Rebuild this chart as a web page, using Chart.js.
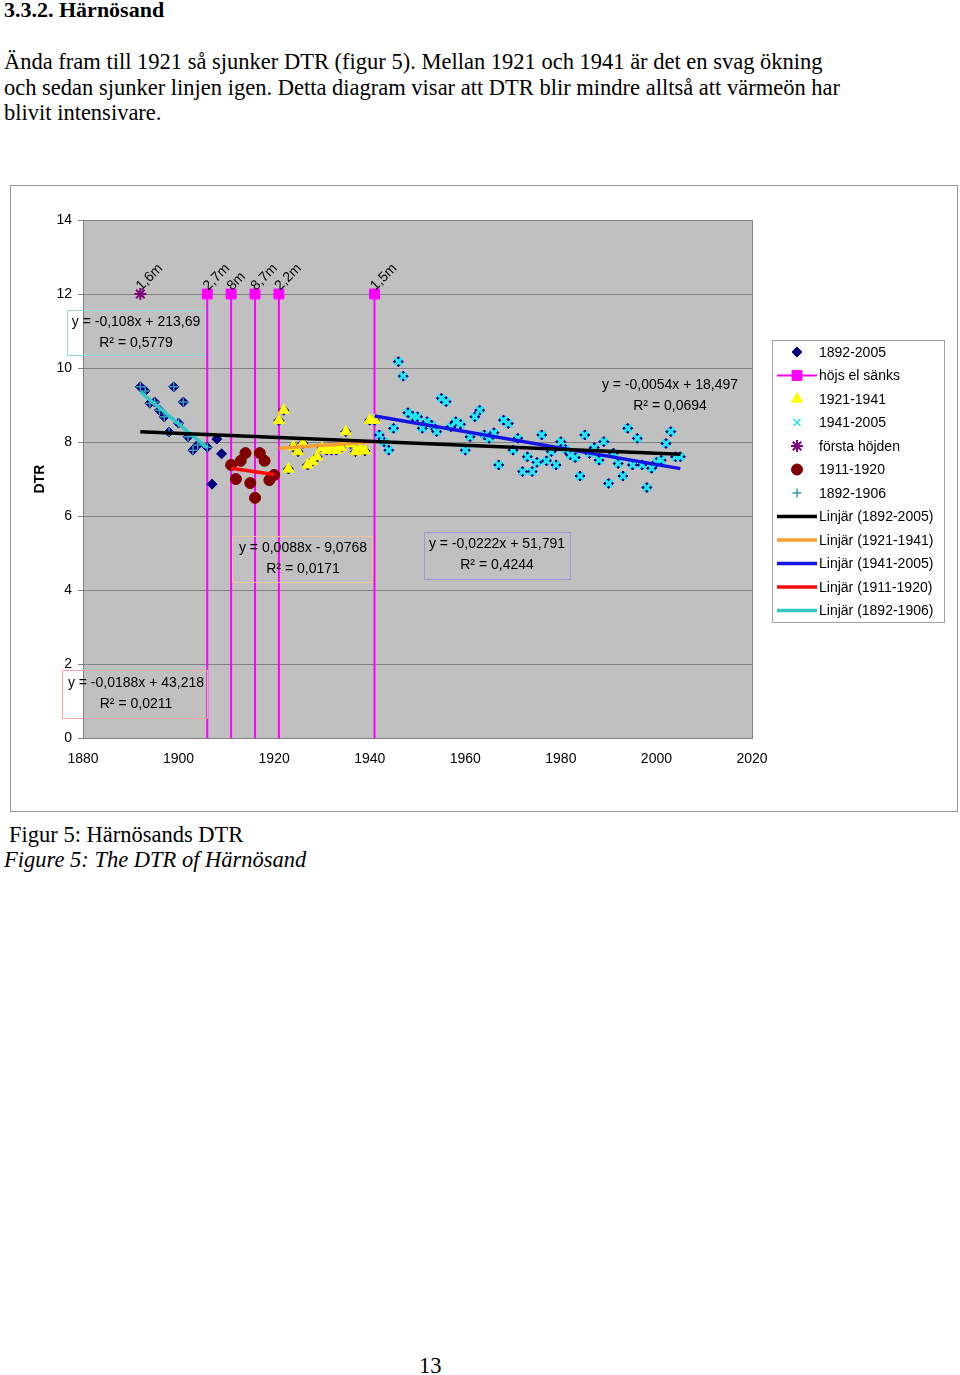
<!DOCTYPE html>
<html>
<head>
<meta charset="utf-8">
<script src="https://cdn.jsdelivr.net/npm/chart.js@4/dist/chart.umd.min.js"></script>
<style>
  body { margin: 0; background: #fff; width: 960px; height: 1375px; position: relative; overflow: hidden; }
  .t { position: absolute; left: 4px; font-family: "Liberation Serif", "Times New Roman", serif; font-size: 22.5px; color: #000; white-space: nowrap; }
  #frame { position: absolute; left: 10px; top: 185px; width: 946px; height: 625px; border: 1px solid #999; }
  #dtr { display: block; }
</style>
</head>
<body>
<div class="t" style="top:-3px; line-height:26px; font-weight:bold; font-size:22px;">3.3.2. Härnösand</div>
<div class="t" style="top:49px; line-height:25.5px;">Ända fram till 1921 så sjunker DTR (figur 5). Mellan 1921 och 1941 är det en svag ökning<br>och sedan sjunker linjen igen. Detta diagram visar att DTR blir mindre alltså att värmeön har<br>blivit intensivare.</div>
<div id="frame"><canvas id="dtr" width="946" height="625"></canvas></div>
<div class="t" style="top:822px; left:9px; line-height:25px;">Figur 5: Härnösands DTR</div>
<div class="t" style="top:847px; line-height:25px; font-style:italic;">Figure 5: The DTR of Härnösand</div>
<div class="t" style="top:1353px; left:419px; line-height:26px;">13</div>
<script>
// values (DTR per year)
var yearsEarly = [1892, 1893, 1894, 1895, 1896, 1897, 1898, 1899, 1900, 1901, 1902, 1903, 1904, 1906]
var dtrEarly = [9.49, 9.38, 9.05, 9.08, 8.86, 8.68, 8.27, 9.49, 8.51, 9.08, 8.14, 7.78, 7.92, 7.86]

var yearsGap = [1907, 1908, 1909]
var dtrGap = [6.86, 8.08, 7.68]

var yearsRed = [1911, 1912, 1913, 1914, 1915, 1916, 1917, 1918, 1919, 1920]
var dtrRed = [7.38, 7.00, 7.49, 7.70, 6.89, 6.49, 7.70, 7.49, 6.97, 7.11]

var yearsYellow = [1921, 1922, 1923, 1924, 1925, 1926, 1927, 1928, 1929, 1930, 1931,
                   1932, 1933, 1934, 1935, 1936, 1937, 1938, 1939, 1940, 1941]
var dtrYellow = [8.58, 8.86, 7.27, 7.87, 7.74, 7.96, 7.38, 7.47, 7.60, 7.84, 7.78,
                 7.78, 7.78, 7.85, 8.28, 7.95, 7.74, 7.84, 7.76, 8.59, 8.59]

var yearsCyan = [1941, 1942, 1943, 1944, 1945, 1946, 1947, 1948, 1949, 1950,
                 1951, 1952, 1953, 1954, 1955, 1956, 1957, 1958, 1959, 1960,
                 1961, 1962, 1963, 1964, 1965, 1966, 1967, 1968, 1969, 1970,
                 1971, 1972, 1973, 1974, 1975, 1976, 1977, 1978, 1979, 1980,
                 1981, 1982, 1983, 1984, 1985, 1986, 1987, 1988, 1989, 1990,
                 1991, 1992, 1993, 1994, 1995, 1996, 1997, 1998, 1999, 2000,
                 2001, 2002, 2003, 2004, 2005]
var dtrCyan = [8.59, 8.19, 8.00, 7.78, 8.37, 10.17, 9.78, 8.79, 8.70, 8.68,
               8.37, 8.55, 8.45, 8.28, 9.18, 9.09, 8.41, 8.55, 8.48, 7.78,
               8.14, 8.68, 8.86, 8.19, 8.10, 8.25, 7.38, 8.59, 8.50, 7.78,
               8.10, 7.20, 7.60, 7.20, 7.45, 8.19, 7.49, 7.74, 7.38, 8.01,
               7.80, 7.65, 7.58, 7.08, 8.19, 7.69, 7.85, 7.51, 8.01, 6.88,
               7.70, 7.42, 7.08, 8.37, 7.38, 8.10, 7.38, 6.77, 7.29, 7.45,
               7.51, 7.96, 8.28, 7.60, 7.60]

// station moves ("höjs el sänks") and the first height
var moveYears = [1906, 1911, 1916, 1921, 1941]
var moveLevel = [12, 12, 12, 12, 12]
var moveLabels = ["2,7m", "8m", "8,7m", "2,2m", "1,5m"]
var firstYears = [1892]
var firstLevel = [12]
var firstLabels = ["1,6m"]

// linear trends as printed on the chart
var trendNames = ["Linjär (1892-2005)", "Linjär (1921-1941)", "Linjär (1941-2005)", "Linjär (1911-1920)", "Linjär (1892-1906)"]
var trendSlopes = [-0.0054, 0.0088, -0.0222, -0.0188, -0.108]
var trendIntercepts = [18.497, -9.0768, 51.791, 43.218, 213.69]
var trendFrom = [1892, 1921, 1941, 1911, 1892]
var trendTo = [2005, 1941, 2005, 1920, 1906]
var trendEq = ["y = -0,0054x + 18,497", "y = 0,0088x - 9,0768", "y = -0,0222x + 51,791", "y = -0,0188x + 43,218", "y = -0,108x + 213,69"]
var trendR2 = ["R² = 0,0694", "R² = 0,0171", "R² = 0,4244", "R² = 0,0211", "R² = 0,5779"]
var trendColors = ["#000000", "#f7a030", "#1414e6", "#ff0a0a", "#33c8c8"]

var xTicks = [1880, 1900, 1920, 1940, 1960, 1980, 2000, 2020]

function pts(xs, ys) {
    return xs.map(function(x, i) { return {x: x, y: ys[i]} })
}

var yearsAll = yearsEarly.concat(yearsGap, yearsRed, yearsYellow, yearsCyan.slice(1))
var dtrAll = dtrEarly.concat(dtrGap, dtrRed, dtrYellow, dtrCyan.slice(1))

var datasets = []
datasets.push({label: "1892-2005", data: pts(yearsAll, dtrAll), pointStyle: "rectRot", pointRadius: 5,
    backgroundColor: "#000080", borderColor: "#000080", borderWidth: 1, order: 20})
datasets.push({label: "höjs el sänks", data: pts(moveYears, moveLevel), pointStyle: "rect", pointRadius: 7,
    backgroundColor: "#ff00ff", borderColor: "#ff00ff", borderWidth: 1, order: 10})
datasets.push({label: "1921-1941", data: pts(yearsYellow, dtrYellow), pointStyle: "triangle", pointRadius: 6.3,
    backgroundColor: "#ffff00", borderColor: "#ffff00", borderWidth: 1, order: 10})
datasets.push({label: "1941-2005", data: pts(yearsCyan, dtrCyan), pointStyle: "crossRot", pointRadius: 5,
    backgroundColor: "#00ffff", borderColor: "#22e6f0", borderWidth: 3, order: 10})
datasets.push({label: "första höjden", data: pts(firstYears, firstLevel), pointStyle: "star", pointRadius: 6,
    backgroundColor: "#800080", borderColor: "#800080", borderWidth: 2, order: 10})
datasets.push({label: "1911-1920", data: pts(yearsRed, dtrRed), pointStyle: "circle", pointRadius: 5.5,
    backgroundColor: "#800000", borderColor: "#800000", borderWidth: 1, order: 10})
datasets.push({label: "1892-1906", data: pts(yearsEarly, dtrEarly), pointStyle: "cross", pointRadius: 4.5,
    backgroundColor: "#2f8fa0", borderColor: "#3a9ab0", borderWidth: 1.5, order: 10})
trendNames.forEach(function(name, i) {
    var a = trendFrom[i], b = trendTo[i]
    datasets.push({type: "line", label: name, order: 1,
        data: [{x: a, y: trendSlopes[i] * a + trendIntercepts[i]}, {x: b, y: trendSlopes[i] * b + trendIntercepts[i]}],
        borderColor: trendColors[i], borderWidth: 3.5, pointRadius: 0, fill: false})
})

var FONT = "14px Arial, 'Liberation Sans', sans-serif"

function marker(ctx, style, r, fill, stroke, bw, x, y) {
    ctx.save()
    ctx.fillStyle = fill
    ctx.strokeStyle = stroke
    ctx.lineWidth = bw
    Chart.helpers.drawPoint(ctx, {pointStyle: style, radius: r, rotation: 0, borderWidth: bw}, x, y)
    ctx.restore()
}

// plot area background, frame, drop lines for the station moves
var plotDecor = {
    id: "plotDecor",
    beforeDraw: function(chart) {
        var ctx = chart.ctx, a = chart.chartArea
        ctx.save()
        ctx.fillStyle = "#c0c0c0"
        ctx.fillRect(a.left, a.top, a.right - a.left, a.bottom - a.top)
        ctx.restore()
    },
    beforeDatasetsDraw: function(chart) {
        var ctx = chart.ctx, a = chart.chartArea
        ctx.save()
        ctx.strokeStyle = "#808080"
        ctx.lineWidth = 1
        ctx.beginPath()
        ctx.moveTo(a.right + 0.5, a.top)
        ctx.lineTo(a.right + 0.5, a.bottom)
        ctx.stroke()
        var y0 = chart.scales.y.getPixelForValue(0)
        ctx.strokeStyle = "#ff00ff"
        ctx.lineWidth = 2
        chart.getDatasetMeta(1).data.forEach(function(p) {
            ctx.beginPath()
            ctx.moveTo(p.x, p.y)
            ctx.lineTo(p.x, y0)
            ctx.stroke()
        })
        ctx.restore()
    },
    afterDraw: function(chart) {
        var ctx = chart.ctx
        ctx.save()
        ctx.font = FONT
        ctx.fillStyle = "#000"
        // rotated height labels
        function rotLabels(meta, labels) {
            meta.data.forEach(function(p, i) {
                ctx.save()
                ctx.translate(p.x + 1, p.y - 3)
                ctx.rotate(-Math.PI / 4)
                ctx.textAlign = "left"
                ctx.textBaseline = "alphabetic"
                ctx.fillText(labels[i], 0, 0)
                ctx.restore()
            })
        }
        rotLabels(chart.getDatasetMeta(1), moveLabels)
        rotLabels(chart.getDatasetMeta(4), firstLabels)

        // axis title
        ctx.save()
        ctx.translate(29, (chart.chartArea.top + chart.chartArea.bottom) / 2)
        ctx.rotate(-Math.PI / 2)
        ctx.font = "bold 14px Arial, 'Liberation Sans', sans-serif"
        ctx.textAlign = "center"
        ctx.textBaseline = "middle"
        ctx.fillText("DTR", 0, 0)
        ctx.restore()

        // trend equation boxes: [trend index, centre x, first line y, box or null, border colour]
        var boxes = [
            [0, 659, 199, null, null],
            [1, 292, 362, [221, 350, 140, 46], "#f0c49a"],
            [2, 486, 358, [413, 346, 146, 47], "#9a9ad8"],
            [3, 125, 497, [51, 484, 145, 48], "#f0a8a8"],
            [4, 125, 136, [56, 124, 138, 45], "#9ad6d6"]
        ]
        ctx.textAlign = "center"
        ctx.textBaseline = "middle"
        boxes.forEach(function(b) {
            if (b[3]) {
                ctx.strokeStyle = b[4]
                ctx.lineWidth = 1
                ctx.strokeRect(b[3][0] + 0.5, b[3][1] + 0.5, b[3][2], b[3][3])
            }
            ctx.fillStyle = "#000"
            ctx.fillText(trendEq[b[0]], b[1], b[2])
            ctx.fillText(trendR2[b[0]], b[1], b[2] + 21)
        })

        // legend
        var lx = 761, ly = 154, lw = 172, lh = 282
        ctx.strokeStyle = "#a0a0a0"
        ctx.lineWidth = 1
        ctx.fillStyle = "#fff"
        ctx.fillRect(lx, ly, lw, lh)
        ctx.strokeRect(lx + 0.5, ly + 0.5, lw, lh)
        var items = chart.data.datasets
        items.forEach(function(ds, i) {
            var cy = 166 + 23.5 * i
            if (ds.type === "line" || i === 1) {
                ctx.save()
                ctx.strokeStyle = ds.borderColor
                ctx.lineWidth = i === 1 ? 2 : 3.5
                ctx.beginPath()
                ctx.moveTo(766, cy)
                ctx.lineTo(806, cy)
                ctx.stroke()
                ctx.restore()
            }
            if (ds.type !== "line") {
                var bw = ds.pointStyle === "crossRot" ? 1.5 : ds.borderWidth
                marker(ctx, ds.pointStyle, ds.pointRadius, ds.backgroundColor, ds.borderColor, bw, 786, cy)
            }
            ctx.fillStyle = "#000"
            ctx.textAlign = "left"
            ctx.fillText(ds.label, 808, cy + 1)
        })
        ctx.restore()
    }
}

var chart = new Chart(document.getElementById("dtr"), {
    type: "scatter",
    data: {datasets: datasets},
    plugins: [plotDecor],
    options: {
        responsive: false,
        animation: false,
        layout: {padding: {left: 0, right: 205, top: 34, bottom: 0}},
        plugins: {legend: {display: false}, tooltip: {enabled: false}},
        scales: {
            x: {
                type: "linear", min: 1880, max: 2020,
                afterBuildTicks: function(scale) { scale.ticks = xTicks.map(function(v) { return {value: v} }) },
                afterFit: function(scale) { scale.height = 73 },
                grid: {display: false, drawTicks: false},
                border: {display: true, color: "#808080", width: 1},
                ticks: {padding: 13, color: "#000", font: {family: "Arial, 'Liberation Sans', sans-serif", size: 14},
                    callback: function(v) { return String(v) }, maxRotation: 0}
            },
            y: {
                min: 0, max: 14,
                afterFit: function(scale) { scale.width = 72 },
                grid: {color: "#808080", lineWidth: 1, tickLength: 5, tickColor: "#808080"},
                border: {display: true, color: "#808080", width: 1},
                ticks: {stepSize: 2, padding: 6, color: "#000", font: {family: "Arial, 'Liberation Sans', sans-serif", size: 14}}
            }
        }
    }
})
</script>
</body>
</html>
